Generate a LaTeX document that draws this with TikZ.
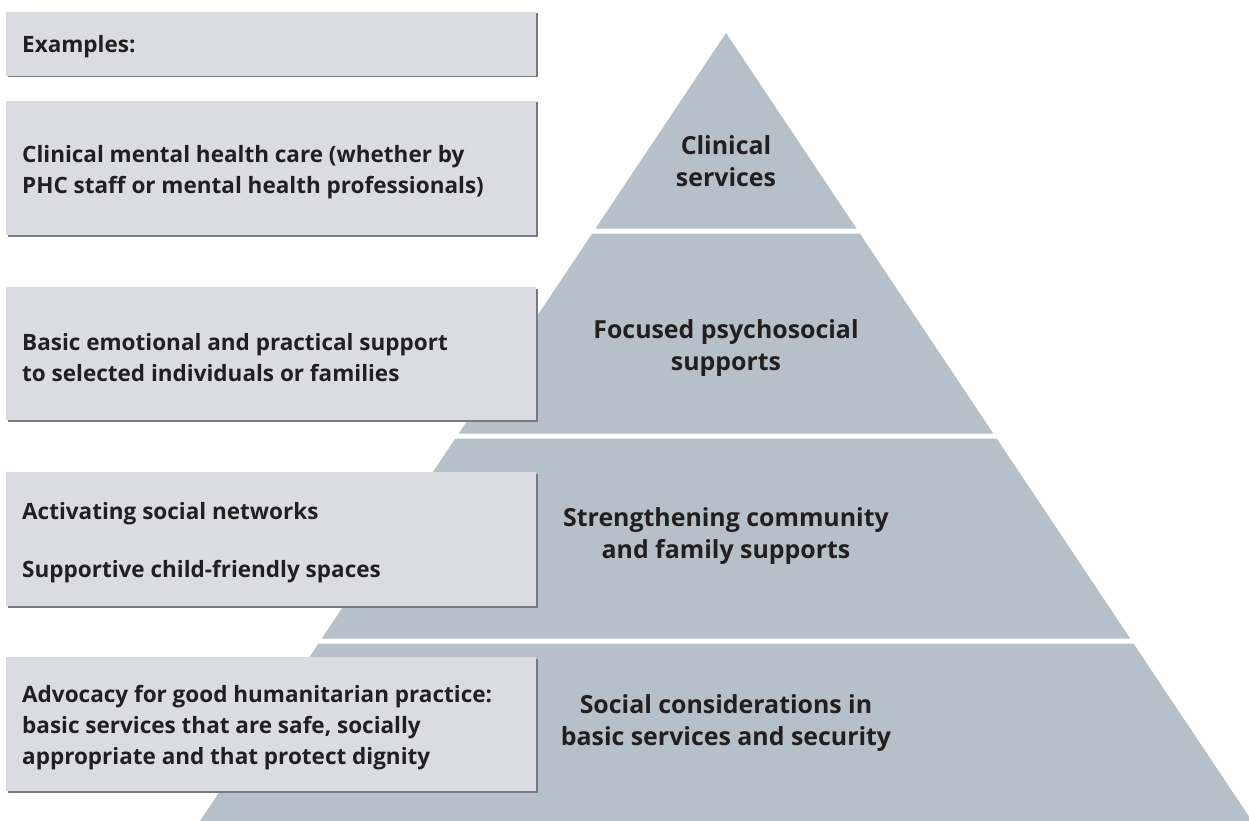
\documentclass[tikz,border=0pt]{standalone}
\usepackage{fontspec}
\setmainfont{Open Sans}
\definecolor{pyr}{RGB}{182,192,200}
\definecolor{boxfill}{RGB}{218,220,225}
\definecolor{boxshade}{RGB}{120,122,128}
\definecolor{txt}{RGB}{35,31,32}
\tikzset{
  tier/.style={fill=pyr, draw=none},
  exbox/.style={fill=boxfill, draw=none},
  shade/.style={fill=boxshade, draw=none},
  boxtext/.style={anchor=west, inner sep=0pt, align=left, text=txt, font=\fontsize{22.5}{30.8}\selectfont\bfseries},
  tiertext/.style={anchor=center, inner sep=0pt, align=center, text=txt, font=\fontsize{24.9}{32}\selectfont\bfseries}
}
\begin{document}
\begin{tikzpicture}[x=1pt,y=-1pt]
\useasboundingbox (0,0) rectangle (1249,821);
% pyramid tiers
\fill[tier] (726,33) -- (856.5,228.5) -- (595.5,228.5) -- cycle;
\fill[tier] (592.2,233.5) -- (859.8,233.5) -- (993.3,433.5) -- (458.7,433.5) -- cycle;
\fill[tier] (455.3,438.5) -- (996.7,438.5) -- (1130.2,638.5) -- (321.8,638.5) -- cycle;
\fill[tier] (318.5,643.5) -- (1133.5,643.5) -- (1252,821) -- (200,821) -- cycle;
% example boxes with shadow
\foreach \t/\b in {12/76, 101/235, 287/420, 472/606, 657/791}{
  \fill[shade] (7.5,\t+1.5) rectangle (537.5,\b+1.5);
  \fill[exbox] (6,\t) rectangle (536,\b);
}
% box texts
\node[boxtext] (ex) at (22,46.5) {Examples:};
\node[boxtext] (b1) at (22,172.5) {Clinical mental health care (whether by\\PHC staff or mental health professionals)};
\node[boxtext] (b2) at (22,357.5) {Basic emotional and practical support\\to selected individuals or families};
\node[boxtext, font=\fontsize{22.5}{58}\selectfont\bfseries] (b3) at (22,542.5) {Activating social networks\\Supportive child-friendly spaces};
\node[boxtext] (b4) at (22,727.5) {Advocacy for good humanitarian practice:\\basic services that are safe, socially\\appropriate and that protect dignity};
% tier texts
\node[tiertext] (t1) at (726,161) {Clinical\\services};
\node[tiertext] (t2) at (726,348) {Focused psychosocial\\supports};
\node[tiertext] (t3) at (726,536) {Strengthening community\\and family supports};
\node[tiertext] (t4) at (726,723) {Social considerations in\\basic services and security};
\end{tikzpicture}
\end{document}
